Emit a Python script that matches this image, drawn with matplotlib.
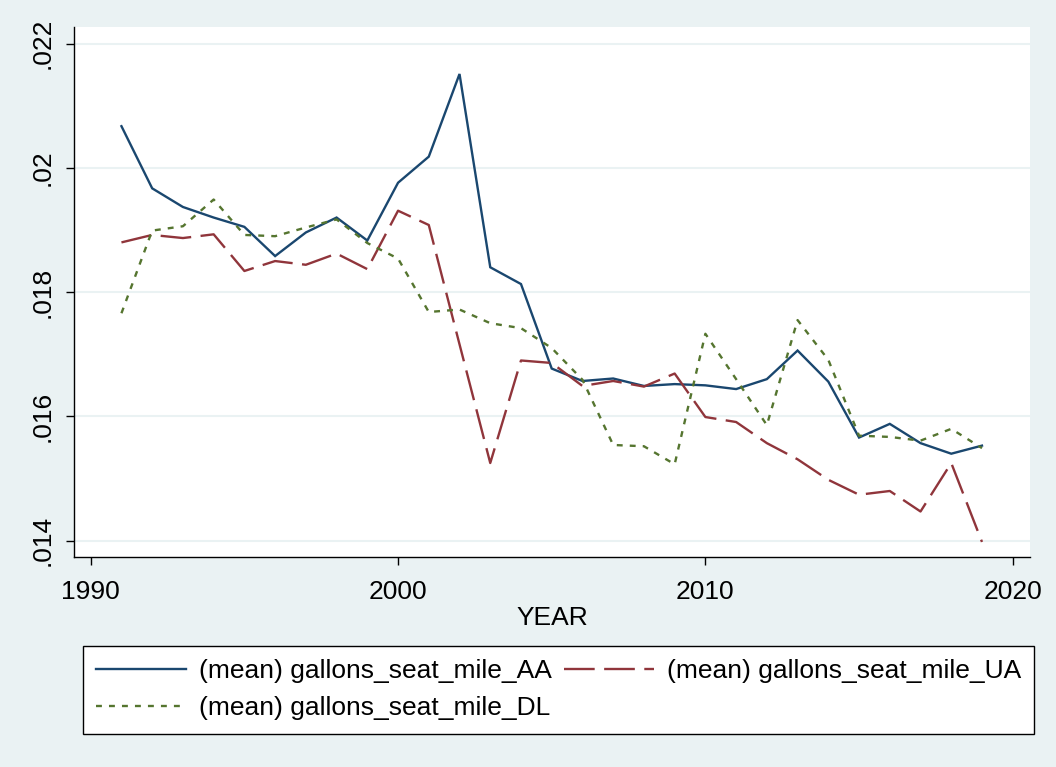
import matplotlib.pyplot as plt

# data
years = list(range(1991, 2020))

gallons_aa = [0.02067, 0.01967, 0.01937, 0.01920, 0.01905, 0.01858, 0.01896, 0.01920, 0.01883,
              0.01976, 0.02018, 0.02151, 0.01840, 0.01813, 0.01677, 0.01657, 0.01661, 0.01649,
              0.01652, 0.01650, 0.01644, 0.01660, 0.01706, 0.01656, 0.01566, 0.01588, 0.01557,
              0.01540, 0.01553]

gallons_ua = [0.01880, 0.01892, 0.01887, 0.01893, 0.01834, 0.01850, 0.01844, 0.01862, 0.01837,
              0.01931, 0.01908, 0.01716, 0.01525, 0.01690, 0.01686, 0.01649, 0.01657, 0.01648,
              0.01669, 0.01599, 0.01591, 0.01557, 0.01531, 0.01498, 0.01474, 0.01480, 0.01447,
              0.01525, 0.01398]

gallons_dl = [0.01766, 0.01899, 0.01906, 0.01949, 0.01892, 0.01890, 0.01904, 0.01917, 0.01879,
              0.01854, 0.01768, 0.01772, 0.01750, 0.01742, 0.01710, 0.01659, 0.01554, 0.01552,
              0.01523, 0.01733, 0.01660, 0.01586, 0.01755, 0.01691, 0.01569, 0.01567, 0.01561,
              0.01580, 0.01549]

labels = ['(mean) gallons_seat_mile_AA', '(mean) gallons_seat_mile_UA', '(mean) gallons_seat_mile_DL']
yticks = [0.014, 0.016, 0.018, 0.020, 0.022]
ytick_labels = ['.014', '.016', '.018', '.02', '.022']
xticks = [1990, 2000, 2010, 2020]

# stata s2color look
plt.rcParams['font.family'] = ['Liberation Sans', 'DejaVu Sans']
plt.rcParams['font.size'] = 19

fig = plt.figure(figsize=(10.56, 7.67), dpi=100, facecolor='#EAF2F3')
ax = fig.add_axes([0.0701, 0.2734, 0.9053, 0.6914])
ax.set_facecolor('white')

l_aa, = ax.plot(years, gallons_aa, color='#1A476F', lw=1.7, solid_joinstyle='miter')
l_ua, = ax.plot(years, gallons_ua, color='#90353B', lw=1.7, dashes=(13, 4))
l_dl, = ax.plot(years, gallons_dl, color='#55752F', lw=1.7, dashes=(2.5, 3))

ax.set_xlim(1989.457, 2020.563)
ax.set_ylim(0.013733, 0.022266)
ax.set_xticks(xticks)
ax.set_xticklabels([str(x) for x in xticks])
ax.set_yticks(yticks)
ax.set_yticklabels(ytick_labels, rotation=90, va='center')

ax.grid(axis='y', color='#EAF2F3', lw=1.5)
ax.set_axisbelow(True)
for side in ['top', 'right']:
    ax.spines[side].set_visible(False)
for side in ['left', 'bottom']:
    ax.spines[side].set_linewidth(1.0)
ax.tick_params(axis='both', length=6, width=1.0, pad=8)
ax.tick_params(axis='x', pad=10)

ax.set_xlabel('YEAR', labelpad=2)

# legend: row 1 AA + UA, row 2 DL
leg = fig.legend([l_aa, l_dl, l_ua], [labels[0], labels[2], labels[1]],
                 ncol=2, loc='upper left', bbox_to_anchor=(83 / 1056, 1 - 646 / 767),
                 borderaxespad=0, frameon=True, fancybox=False, edgecolor='black',
                 facecolor='white', framealpha=1,
                 handlelength=3.4, handletextpad=0.5, columnspacing=0.45,
                 labelspacing=0.5, borderpad=0.5, fontsize=19)
leg.get_frame().set_linewidth(1.0)

fig.savefig('out.png', dpi=100, facecolor=fig.get_facecolor())
